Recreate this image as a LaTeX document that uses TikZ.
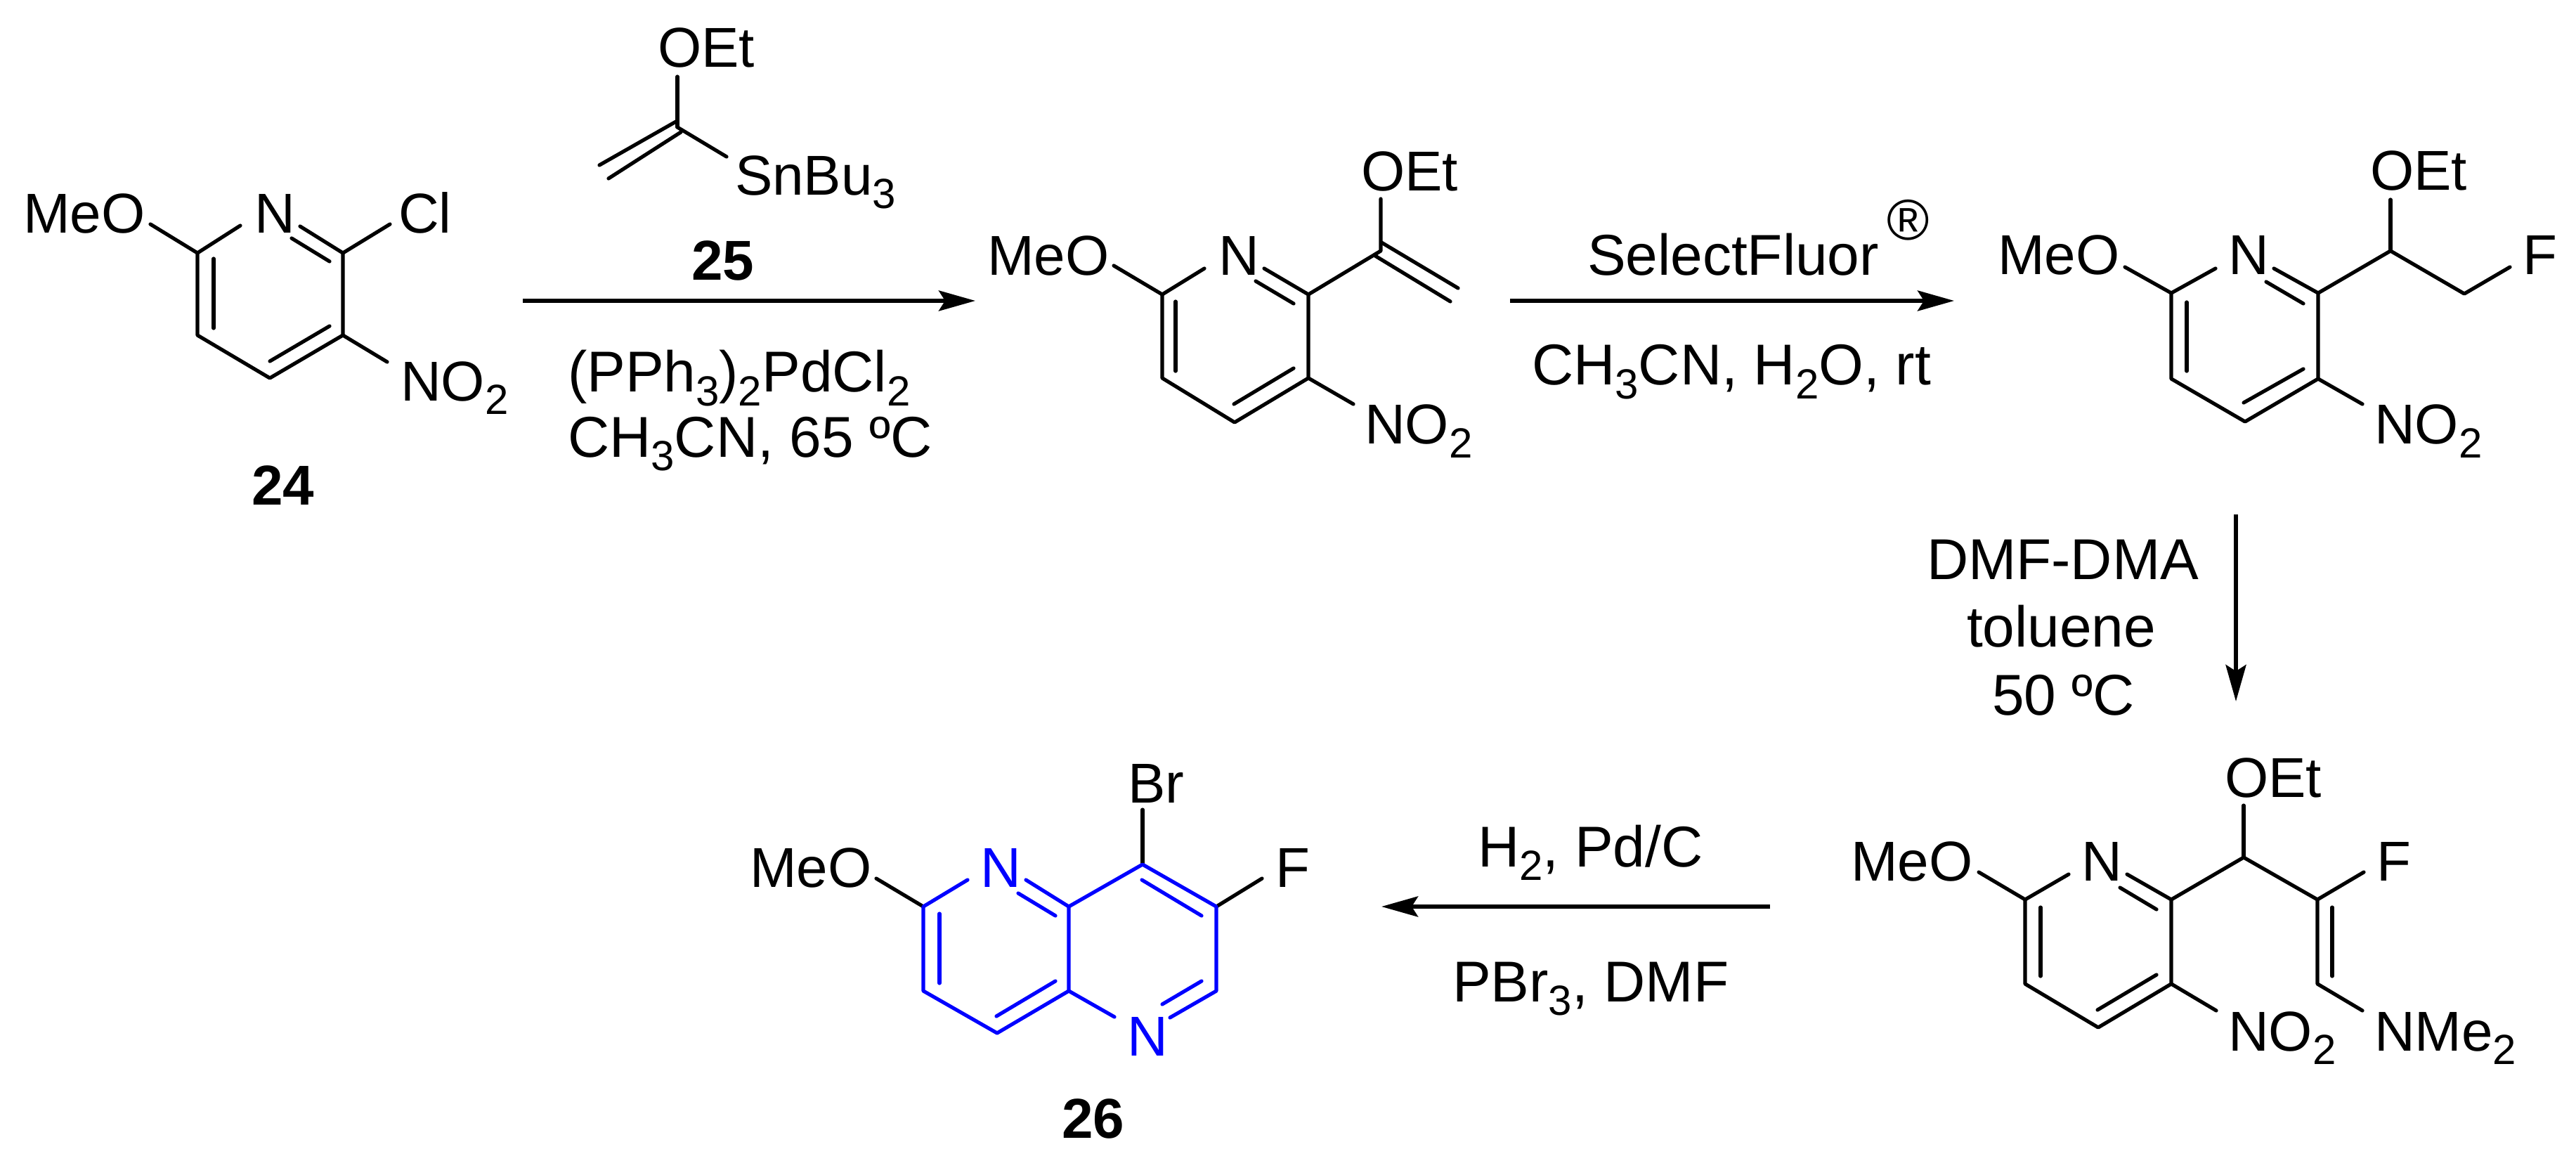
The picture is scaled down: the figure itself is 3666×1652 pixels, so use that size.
\documentclass[tikz,border=0pt]{standalone}
\usepackage{fontspec}
\setmainfont{Liberation Sans}
\usetikzlibrary{arrows.meta}
\definecolor{ringblue}{RGB}{0,0,255}
\newcommand{\low}[1]{\raisebox{-9.5pt}{\fontsize{30}{30}\selectfont #1}}
\newcommand{\co}[3]{\coordinate (#1) at (#2,#3);}
\tikzset{
  chem/.style={anchor=base west,inner sep=0pt,outer sep=0pt,font=\fontsize{40}{44}\selectfont,text=black},
  reagent/.style={chem,font=\fontsize{41}{44}\selectfont},
  label24/.style={chem,font=\fontsize{40}{44}\selectfont\bfseries},
  bluetext/.style={chem,text=ringblue},
  bond/.style={draw=black,line width=2.6pt,line cap=round,line join=round},
  bluebond/.style={bond,draw=ringblue},
  rxn/.style={draw=black,line width=2.8pt,-{Stealth[length=26pt,width=14.5pt,inset=4.5pt]}}
}
\begin{document}
\begin{tikzpicture}[x=0.5pt,y=-0.5pt]
\useasboundingbox (0,0) rectangle (3666,1652);
% ---------- compound 24
\node[chem] (aMeO) at (33,332) {MeO};
\node[chem] (aN) at (362,332) {N};
\node[chem] (aCl) at (567,332) {Cl};
\node[chem] (aNO) at (570,570) {NO\low{2}};
\node[label24] (aLab) at (358,718) {24};
\co{a6}{281}{360}\co{a5}{281}{477}\co{a4}{384}{538}\co{a3}{488}{477}\co{a2}{488}{360}
\co{aOb}{214}{319}\co{aNl}{342}{321}\co{aNr}{427}{322}\co{aClb}{555}{319}\co{aNOb}{551}{515}
\co{ai1}{415}{339}\co{ai2}{469}{372}\co{ai3}{469}{464}\co{ai4}{384}{514}\co{ai5}{304}{368}\co{ai6}{304}{467}
\draw[bond] (aOb) -- (a6) -- (aNl);
\draw[bond] (a6) -- (a5) -- (a4) -- (a3) -- (a2) -- (aNr);
\draw[bond] (a2) -- (aClb);
\draw[bond] (a3) -- (aNOb);
\draw[bond] (ai1) -- (ai2);
\draw[bond] (ai3) -- (ai4);
\draw[bond] (ai5) -- (ai6);
% ---------- reagent 25
\node[chem] (rOEt) at (936,96) {OEt};
\node[chem] (rSn) at (1046,278) {SnBu\low{3}};
\node[label24] (rLab) at (984,399) {25};
\co{rOb}{964}{109}\co{rC}{964}{181}\co{rC1}{962}{173}\co{rE1}{853}{235}\co{rC2}{969}{188}\co{rE2}{866}{254}\co{rSb}{1034}{223}
\draw[bond] (rOb) -- (rC);
\draw[bond] (rC1) -- (rE1);
\draw[bond] (rC2) -- (rE2);
\draw[bond] (rC) -- (rSb);
% ---------- arrow 1
\co{ar1s}{744}{428}\co{ar1e}{1388}{428}
\draw[rxn] (ar1s) -- (ar1e);
\node[reagent] (t1) at (808,558) {(PPh\low{3})\low{2}PdCl\low{2}};
\node[reagent] (t2) at (808,650) {CH\low{3}CN, 65 ºC};
% ---------- compound 2
\node[chem] (bMeO) at (1405,392) {MeO};
\node[chem] (bN) at (1734,392) {N};
\node[chem] (bOEt) at (1937,272) {OEt};
\node[chem] (bNO) at (1942,632) {NO\low{2}};
\co{b6}{1654}{419}\co{b5}{1654}{538}\co{b4}{1757}{601}\co{b3}{1862}{538}\co{b2}{1862}{419}\co{bV}{1965}{357}
\co{bOb}{1585}{378}\co{bNl}{1714}{382}\co{bNr}{1799}{382}\co{bNOb}{1926}{575}\co{bOe}{1965}{283}
\co{bd1}{1966}{345}\co{bd2}{2075}{410}\co{bd3}{1957}{364}\co{bd4}{2064}{429}
\co{bi1}{1787}{400}\co{bi2}{1841}{432}\co{bi3}{1841}{524}\co{bi4}{1756}{575}\co{bi5}{1673}{429}\co{bi6}{1673}{528}
\draw[bond] (bOb) -- (b6) -- (bNl);
\draw[bond] (b6) -- (b5) -- (b4) -- (b3) -- (b2) -- (bNr);
\draw[bond] (b2) -- (bV) -- (bOe);
\draw[bond] (b3) -- (bNOb);
\draw[bond] (bd1) -- (bd2);
\draw[bond] (bd3) -- (bd4);
\draw[bond] (bi1) -- (bi2);
\draw[bond] (bi3) -- (bi4);
\draw[bond] (bi5) -- (bi6);
% ---------- arrow 2
\co{ar2s}{2149}{428}\co{ar2e}{2781}{428}
\draw[rxn] (ar2s) -- (ar2e);
\node[reagent] (t3) at (2259,392) {SelectFluor\hspace{6pt}\raisebox{25pt}{®}};
\node[reagent] (t4) at (2180,548) {CH\low{3}CN, H\low{2}O, rt};
% ---------- compound 3
\node[chem] (cMeO) at (2843,391) {MeO};
\node[chem] (cN) at (3171,391) {N};
\node[chem] (cOEt) at (3373,271) {OEt};
\node[chem] (cF) at (3590,391) {F};
\node[chem] (cNO) at (3379,632) {NO\low{2}};
\co{c6}{3090}{417}\co{c5}{3090}{539}\co{c4}{3195}{600}\co{c3}{3299}{539}\co{c2}{3299}{417}\co{cH}{3402}{357}\co{cM}{3507}{418}
\co{cOb}{3024}{380}\co{cNl}{3153}{382}\co{cNr}{3236}{382}\co{cOe}{3402}{284}\co{cFb}{3572}{380}\co{cNOb}{3362}{575}
\co{ci1}{3225}{401}\co{ci2}{3278}{432}\co{ci3}{3278}{525}\co{ci4}{3193}{573}\co{ci5}{3112}{430}\co{ci6}{3112}{528}
\draw[bond] (cOb) -- (c6) -- (cNl);
\draw[bond] (c6) -- (c5) -- (c4) -- (c3) -- (c2) -- (cNr);
\draw[bond] (c2) -- (cH) -- (cM) -- (cFb);
\draw[bond] (cH) -- (cOe);
\draw[bond] (c3) -- (cNOb);
\draw[bond] (ci1) -- (ci2);
\draw[bond] (ci3) -- (ci4);
\draw[bond] (ci5) -- (ci6);
% ---------- arrow 3
\co{ar3s}{3182}{732}\co{ar3e}{3182}{998}
\draw[rxn] (ar3s) -- (ar3e);
\node[reagent] (t5) at (2742,824) {DMF-DMA};
\node[reagent] (t6) at (2799,920) {toluene};
\node[reagent] (t7) at (2835,1017) {50 ºC};
% ---------- compound 4
\node[chem] (dMeO) at (2634,1253) {MeO};
\node[chem] (dN) at (2962,1253) {N};
\node[chem] (dOEt) at (3166,1134) {OEt};
\node[chem] (dF) at (3382,1253) {F};
\node[chem] (dNO) at (3171,1495) {NO\low{2}};
\node[chem] (dNMe) at (3379,1495) {NMe\low{2}};
\co{d6}{2882}{1280}\co{d5}{2882}{1400}\co{d4}{2986}{1462}\co{d3}{3090}{1400}\co{d2}{3090}{1280}\co{dH}{3193}{1220}\co{dF1}{3298}{1280}\co{dN1}{3298}{1400}
\co{dOb}{2816}{1241}\co{dNl}{2944}{1244}\co{dNr}{3027}{1244}\co{dOe}{3193}{1146}\co{dFb}{3364}{1241}\co{dNMb}{3362}{1438}\co{dNOb}{3154}{1438}
\co{di1}{3017}{1263}\co{di2}{3069}{1294}\co{di3}{3069}{1387}\co{di4}{2985}{1437}\co{di5}{2904}{1291}\co{di6}{2904}{1389}\co{di7}{3319}{1291}\co{di8}{3319}{1389}
\draw[bond] (dOb) -- (d6) -- (dNl);
\draw[bond] (d6) -- (d5) -- (d4) -- (d3) -- (d2) -- (dNr);
\draw[bond] (d2) -- (dH) -- (dF1) -- (dFb);
\draw[bond] (dH) -- (dOe);
\draw[bond] (dF1) -- (dN1) -- (dNMb);
\draw[bond] (d3) -- (dNOb);
\draw[bond] (di1) -- (di2);
\draw[bond] (di3) -- (di4);
\draw[bond] (di5) -- (di6);
\draw[bond] (di7) -- (di8);
% ---------- arrow 4
\co{ar4s}{2519}{1290}\co{ar4e}{1966}{1290}
\draw[rxn] (ar4s) -- (ar4e);
\node[reagent] (t8) at (2103,1233) {H\low{2}, Pd/C};
\node[reagent] (t9) at (2067,1425) {PBr\low{3}, DMF};
% ---------- compound 26
\node[chem] (eMeO) at (1067,1262) {MeO};
\node[bluetext] (eN1) at (1395,1262) {N};
\node[bluetext] (eN2) at (1604,1502) {N};
\node[chem] (eBr) at (1605,1142) {Br};
\node[chem] (eF) at (1815,1262) {F};
\node[label24] (eLab) at (1511,1619) {26};
\co{e6}{1314}{1290}\co{e5}{1314}{1410}\co{e4}{1419}{1470}\co{e4a}{1521}{1410}\co{e8a}{1521}{1290}\co{e8}{1626}{1230}\co{e7}{1731}{1290}\co{e5x}{1731}{1410}
\co{eOb}{1247}{1250}\co{eBrb}{1626}{1152}\co{eFb}{1796}{1250}
\co{eNl}{1377}{1252}\co{eNr}{1460}{1252}\co{eN2l}{1586}{1447}\co{eN2r}{1665}{1448}
\co{ei1}{1449}{1271}\co{ei2}{1502}{1303}\co{ei3}{1625}{1252}\co{ei4}{1710}{1303}\co{ei5}{1710}{1396}\co{ei6}{1654}{1429}\co{ei7}{1502}{1396}\co{ei8}{1418}{1446}\co{ei9}{1337}{1300}\co{ei10}{1337}{1399}
\draw[bond] (eOb) -- (e6);
\draw[bond] (eBrb) -- (e8);
\draw[bond] (eFb) -- (e7);
\draw[bluebond] (eNl) -- (e6) -- (e5) -- (e4) -- (e4a) -- (e8a) -- (eNr);
\draw[bluebond] (e8a) -- (e8) -- (e7) -- (e5x) -- (eN2r);
\draw[bluebond] (e4a) -- (eN2l);
\draw[bluebond] (ei1) -- (ei2);
\draw[bluebond] (ei3) -- (ei4);
\draw[bluebond] (ei5) -- (ei6);
\draw[bluebond] (ei7) -- (ei8);
\draw[bluebond] (ei9) -- (ei10);
\end{tikzpicture}
\end{document}
